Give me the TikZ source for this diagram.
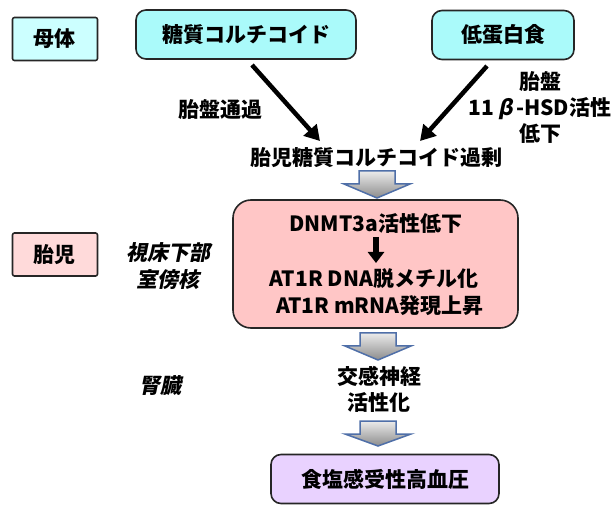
\documentclass[tikz,border=0pt]{standalone}
\usepackage{fontspec}
\setmainfont{Noto Sans CJK JP}
\newfontfamily\jpit{Noto Sans CJK JP}[FakeSlant=0.2]
\usetikzlibrary{arrows.meta}
\definecolor{cyanL}{RGB}{204,255,255}
\definecolor{cyanD}{RGB}{170,250,250}
\definecolor{pinkL}{RGB}{255,218,218}
\definecolor{pinkD}{RGB}{255,198,198}
\definecolor{lav}{RGB}{233,210,255}
\definecolor{arrowblue}{RGB}{79,111,168}
\tikzset{
  txt/.style={font=\fontsize{21}{26}\selectfont\bfseries, inner sep=0pt, align=center},
  itxt/.style={font=\fontsize{21}{27}\selectfont\jpit\bfseries, inner sep=0pt, align=center},
  sqbox/.style={txt, draw=black!85, line width=1.6pt, rounded corners=2pt, minimum width=85pt, minimum height=43pt},
  rbox/.style={txt, draw=black!85, line width=1.6pt, rounded corners=10pt, minimum height=49pt},
  blk/.style={-{Triangle[length=15pt,width=17pt]}, line width=4.5pt, black},
  blockarrow/.style={draw=arrowblue, line width=1.5pt, top color=black!8, bottom color=black!45, line join=miter},
}
\newcommand{\blockarr}[3]{% x center, top y, tip y
  \path[blockarrow] (#1-18,#2) -- (#1+18,#2) -- (#1+18,{#2+13}) -- (#1+33,{#2+13}) -- (#1,#3) -- (#1-33,{#2+13}) -- (#1-18,{#2+13}) -- cycle;
}
\begin{document}
\begin{tikzpicture}[x=1pt,y=-1pt]
\useasboundingbox (0,0) rectangle (611,505);
% maternal
\node[sqbox, fill=cyanL] (mother) at (55,39) {母体};
\node[rbox, fill=cyanD, minimum width=220pt] (gc) at (246,34.5) {糖質コルチコイド};
\node[rbox, fill=cyanD, minimum width=142pt] (lp) at (503,35) {低蛋白食};
\coordinate (a1s) at (252,65);
\coordinate (a1e) at (320,141);
\coordinate (a2s) at (487,66);
\coordinate (a2e) at (420,141);
\draw[blk] (a1s) -- (a1e);
\draw[blk] (a2s) -- (a2e);
\node[txt] (pt) at (220,110) {胎盤通過};
\node[txt] (hsd) at (540,107) {胎盤\\11\,{\jpit β}\,-HSD活性\\低下};
\node[txt] (fg) at (376,158) {胎児糖質コルチコイド過剰};
\blockarr{377}{171}{198}
% fetal
\node[sqbox, fill=pinkL] (fetus) at (55,254.5) {胎児};
\node[itxt] (pvn) at (168,266) {視床下部\\室傍核};
\node[txt, draw=black!85, line width=1.6pt, rounded corners=18pt, fill=pinkD, minimum width=285pt, minimum height=128pt] (pbox) at (375.5,264) {};
\node[txt] (dnmt) at (376,224) {DNMT3a活性低下};
\node[txt] (dna) at (374,279) {AT1R DNA脱メチル化};
\node[txt] (mrna) at (380,306) {AT1R mRNA発現上昇};
\coordinate (sa) at (376,237);
\coordinate (sb) at (376,263);
\draw[-{Triangle[length=11pt,width=16pt]}, line width=6pt, black] (sa) -- (sb);
\blockarr{378}{333}{360}
\node[txt] (sym) at (379,389) {交感神経\\活性化};
\node[itxt] (kid) at (160,386) {腎臓};
\blockarr{378}{421}{446}
\node[rbox, fill=lav, minimum width=228pt] (ht) at (385,479) {食塩感受性高血圧};
\end{tikzpicture}
\end{document}
